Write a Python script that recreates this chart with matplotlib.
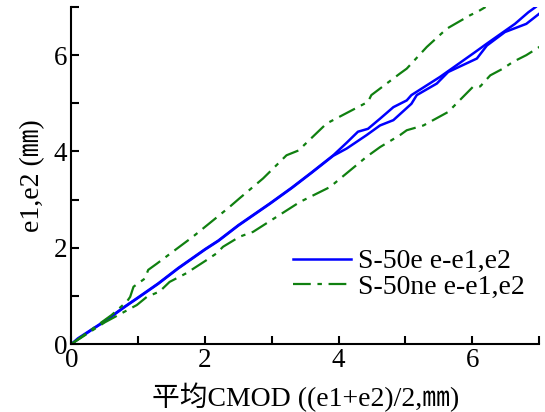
import matplotlib
matplotlib.use("Agg")
import matplotlib.pyplot as plt

plt.rcParams['font.family'] = ['Liberation Serif', 'Noto Sans CJK SC', 'DejaVu Sans']

# S-50e e-e1,e2 (two gauges)
blue1_x = [0, 0.1, 0.3, 0.5, 0.8, 1.0, 1.3, 1.6, 2.0, 2.2, 2.5, 2.97, 3.3, 3.6, 3.92,
           4.12, 4.29, 4.44, 4.62, 4.82, 5.02, 5.09, 5.52, 6.04, 6.22, 6.64, 6.84, 6.95]
blue1_y = [0, 0.12, 0.3, 0.48, 0.78, 0.97, 1.26, 1.58, 1.97, 2.15, 2.47, 2.92, 3.25, 3.57, 3.92,
           4.18, 4.41, 4.47, 4.68, 4.92, 5.06, 5.17, 5.55, 6.06, 6.24, 6.65, 6.89, 7.0]
blue2_x = [0, 0.1, 0.3, 0.5, 0.8, 1.0, 1.3, 1.6, 2.0, 2.2, 2.5, 2.97, 3.3, 3.6, 3.92,
           4.12, 4.42, 4.62, 4.82, 5.09, 5.17, 5.47, 5.64, 6.07, 6.22, 6.49, 6.81, 7.04]
blue2_y = [0, 0.1, 0.29, 0.47, 0.77, 0.96, 1.25, 1.57, 1.96, 2.14, 2.46, 2.91, 3.24, 3.56, 3.91,
           4.06, 4.34, 4.54, 4.65, 4.99, 5.17, 5.41, 5.65, 5.93, 6.2, 6.48, 6.65, 6.9]

# S-50ne e-e1,e2 (two gauges)
green1_x = [0, 0.3, 0.6, 0.83, 0.88, 0.93, 1.10, 1.15, 1.28, 1.55, 1.82, 2.22, 2.37, 2.52,
            2.87, 3.22, 3.40, 3.82, 4.44, 4.49, 4.92, 5.02, 5.32, 5.62, 5.97, 6.09, 6.2]
green1_y = [0, 0.3, 0.6, 0.88, 0.98, 1.19, 1.36, 1.54, 1.67, 1.95, 2.23, 2.68, 2.85, 3.03,
            3.44, 3.92, 4.02, 4.58, 5.03, 5.17, 5.62, 5.72, 6.17, 6.55, 6.83, 6.91, 7.0]
green2_x = [0, 0.5, 0.98, 1.13, 1.32, 1.47, 1.72, 2.02, 2.17, 2.27, 2.52, 2.72, 3.42, 3.87,
            4.42, 4.62, 4.92, 5.02, 5.27, 5.64, 6.01, 6.12, 6.27, 6.46, 6.61, 6.81, 7.04]
green2_y = [0, 0.45, 0.81, 0.98, 1.09, 1.29, 1.47, 1.74, 1.88, 2.02, 2.23, 2.33, 2.95, 3.26,
            3.89, 4.09, 4.34, 4.44, 4.54, 4.82, 5.34, 5.35, 5.58, 5.72, 5.86, 6.0, 6.2]

series_labels = ['S-50e e-e1,e2', 'S-50ne e-e1,e2']
x_label = '平均CMOD ((e1+e2)/2,㎜)'
y_label = 'e1,e2 (㎜)'
ticks_major = [0, 2, 4, 6]
ticks_all = [0, 1, 2, 3, 4, 5, 6, 7]

fig = plt.figure(figsize=(5.45, 4.12), dpi=100)
ax = fig.add_axes([0.131, 0.165, 0.858, 0.818])

blue = '#0000ff'
green = '#108010'
dash = (0, (8, 3, 2, 3))

ax.plot(blue1_x, blue1_y, color=blue, lw=1.8, label=series_labels[0])
ax.plot(blue2_x, blue2_y, color=blue, lw=1.8)
ax.plot(green1_x, green1_y, color=green, lw=1.6, linestyle=dash, label=series_labels[1])
ax.plot(green2_x, green2_y, color=green, lw=1.6, linestyle=dash)

ax.set_xlim(0, 7)
ax.set_ylim(0, 7)
ax.spines['top'].set_visible(False)
ax.spines['right'].set_visible(False)
for s in ('left', 'bottom'):
    ax.spines[s].set_linewidth(1.5)

ax.set_xticks(ticks_all, minor=True)
ax.set_yticks(ticks_all, minor=True)
ax.set_xticks(ticks_major)
ax.set_yticks(ticks_major)
ax.tick_params(which='both', direction='in', length=6, width=1.5, labelsize=19.5)
ax.tick_params(axis='x', pad=3)
ax.tick_params(axis='y', pad=3)

ax.set_xlabel(x_label, fontsize=20, labelpad=7)
ax.set_ylabel(y_label, fontsize=20, labelpad=6)

leg = ax.legend(loc='lower right', bbox_to_anchor=(1.005, 0.082), frameon=False,
                fontsize=20, handlelength=2.1, handletextpad=0.25, labelspacing=0.0,
                borderaxespad=0.2)

fig.savefig('out.png', dpi=100)
